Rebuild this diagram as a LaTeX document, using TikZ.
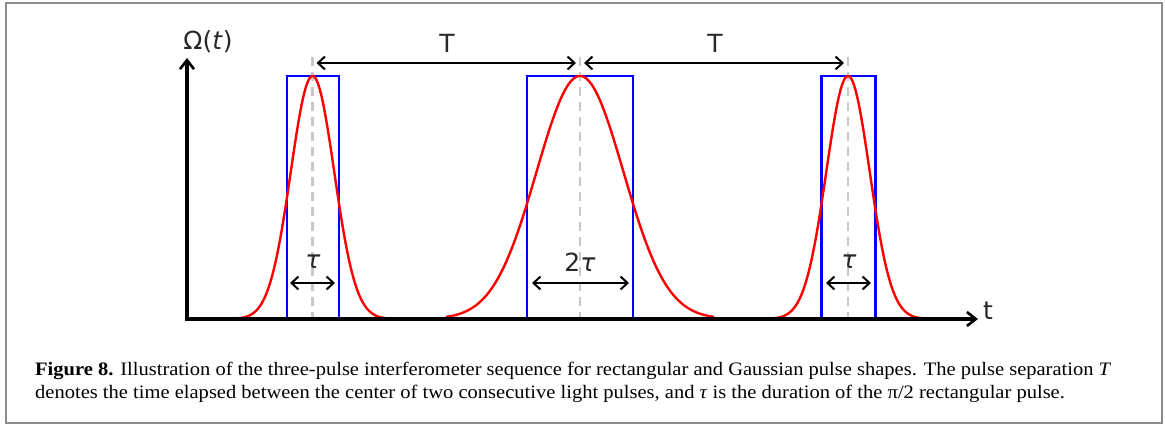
\documentclass[tikz,border=0pt]{standalone}
\usepackage{fontspec}
\setmainfont[FakeStretch=1.08]{Liberation Serif}
\newfontfamily\lblfont{DejaVu Sans}
\usetikzlibrary{arrows.meta}
\definecolor{dashgray}{RGB}{200,200,200}
\definecolor{framegray}{RGB}{140,140,140}
\definecolor{pulseblue}{RGB}{0,0,255}
\definecolor{pulsered}{RGB}{255,0,0}
\definecolor{lbltext}{RGB}{40,40,40}
\tikzset{
  axisline/.style={line width=3.6pt, -{Straight Barb[length=9pt,width=14pt,line width=2.6pt]}},
  dimarrow/.style={line width=2pt, {Straight Barb[length=7pt,width=13pt,line width=2pt]}-{Straight Barb[length=7pt,width=13pt,line width=2pt]}},
  centerline/.style={dashgray, line width=2.2pt, dash pattern=on 9pt off 6pt},
  rectpulse/.style={pulseblue, line width=2.4pt},
  gausspulse/.style={pulsered, line width=2.4pt},
  lbl/.style={font=\lblfont\fontsize{25}{28}\selectfont, text=lbltext, inner sep=0pt},
  framebox/.style={framegray, line width=2pt},
  captext/.style={anchor=base west, inner sep=0pt, font=\fontsize{19}{23}\selectfont}
}
\begin{document}
\begin{tikzpicture}[x=1pt,y=-1pt]
\useasboundingbox (0,0) rectangle (1165,425);
\draw[framebox] (6,3) rectangle (1162,423);
% centre lines
\foreach \c/\n in {312.5/a,580/b,848/c}{
  \coordinate (top\n) at (\c,57);
  \coordinate (bot\n) at (\c,319);
  \draw[centerline] (top\n) -- (bot\n);
}
% rectangular pulses
\draw[rectpulse] (287,319) -- (287,76) -- (339,76) -- (339,319);
\draw[rectpulse] (527,319) -- (527,76) -- (633,76) -- (633,319);
\draw[rectpulse] (821.5,319) -- (821.5,76) -- (875.5,76) -- (875.5,319);
% gaussian pulses
\draw[gausspulse] plot[domain=-125:134,samples=160] ({\x+312.5},{319-243*exp(-0.5*(\x/21.7)*(\x/21.7))});
\draw[gausspulse] plot[domain=-134:134,samples=200] ({\x+580},{319-243*exp(-0.5*(\x/43.4)*(\x/43.4))});
\draw[gausspulse] plot[domain=-134:80,samples=160] ({\x+848},{319-243*exp(-0.5*(\x/21.7)*(\x/21.7))});
% axes
\coordinate (origin) at (187,319);
\coordinate (ytip) at (187,58);
\coordinate (xtip) at (978,319);
\draw[axisline] ([yshift=1.8pt]origin) -- (ytip);
\draw[axisline] ([xshift=-1.8pt]origin) -- (xtip);
\node[lbl] (ylab) at (208,42) {Ω(\textit{t})};
\node[lbl] (xlab) at (988,311) {t};
% T arrows
\coordinate (T1a) at (316.5,63);
\coordinate (T1b) at (576,63);
\coordinate (T2a) at (584,63);
\coordinate (T2b) at (844,63);
\draw[dimarrow] (T1a) -- (T1b);
\draw[dimarrow] (T2a) -- (T2b);
\node[lbl] (Tlab1) at (447,43) {T};
\node[lbl] (Tlab2) at (715,43) {T};
% tau arrows
\coordinate (t1a) at (290,283);
\coordinate (t1b) at (335,283);
\coordinate (t2a) at (532,283);
\coordinate (t2b) at (629,283);
\coordinate (t3a) at (826,283);
\coordinate (t3b) at (871,283);
\draw[dimarrow] (t1a) -- (t1b);
\draw[dimarrow] (t2a) -- (t2b);
\draw[dimarrow] (t3a) -- (t3b);
\node[lbl] (tau1) at (313,262) {\textit{τ}};
\node[lbl] (tau2) at (580,262) {2\textit{τ}};
\node[lbl] (tau3) at (849,262) {\textit{τ}};
% caption
\node[captext] (cap1) at (35,375)
 {\textbf{Figure 8.} Illustration of the three-pulse interferometer sequence for rectangular and Gaussian pulse shapes. The pulse separation \textit{T}};
\node[captext] (cap2) at (35,398)
 {denotes the time elapsed between the center of two consecutive light pulses, and \textit{τ} is the duration of the π/2 rectangular pulse.};
\end{tikzpicture}
\end{document}
